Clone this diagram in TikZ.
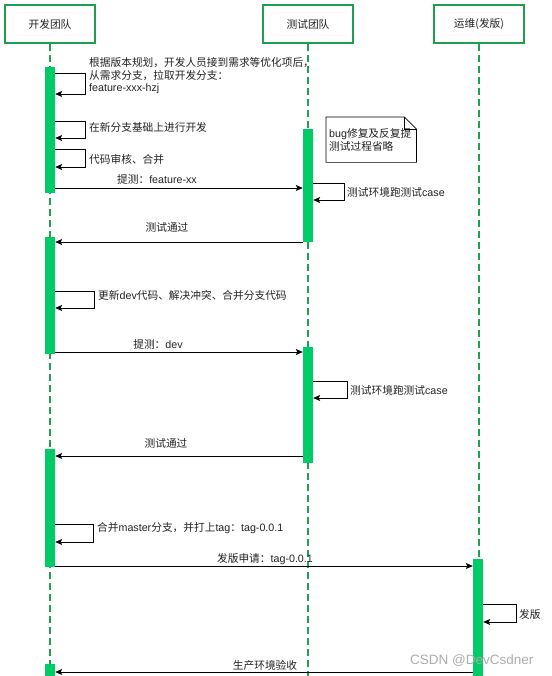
\documentclass[tikz,border=0pt]{standalone}
\usepackage{fontspec}
\setmainfont{Liberation Sans}
\newfontfamily\cjk{Noto Sans CJK SC}
\usetikzlibrary{arrows.meta,calc}
\definecolor{boxgreen}{HTML}{1E9E50}
\definecolor{linegreen}{HTML}{1FA055}
\definecolor{bargreen}{HTML}{00CC66}
\definecolor{txt}{HTML}{222222}
\tikzset{
  actor/.style={draw=boxgreen, line width=1.4pt, minimum width=90pt, minimum height=38pt, fill=white, inner sep=0pt, font=\fontsize{10.7}{12.5}\selectfont\cjk, text=txt},
  life/.style={draw=linegreen, line width=1.2pt, dash pattern=on 7pt off 4pt},
  actbar/.style={fill=bargreen, draw=none, minimum width=10pt, inner sep=0pt, anchor=north},
  msg/.style={draw=black, line width=0.8pt, -{Stealth[length=7pt,width=6pt,inset=1.5pt]}},
  lbl/.style={font=\fontsize{10.7}{12.5}\selectfont, inner sep=0pt, text=txt},
}
\begin{document}
\begin{tikzpicture}[x=1pt,y=-1pt]
\useasboundingbox (0,0) rectangle (551,676);
% headers
\node[actor] (h1) at (50,24) {开发团队};
\node[actor] (h2) at (308,24) {测试团队};
\node[actor] (h3) at (479,24) {运维(发版)};
% lifelines
\coordinate (e1) at (50,680);
\coordinate (e2) at (308,680);
\coordinate (e3) at (479,680);
\draw[life] (h1.south) -- (e1);
\draw[life] (h2.south) -- (e2);
\draw[life] (h3.south) -- (e3);
% activation bars
\node[actbar, minimum height=126pt] (d1) at (50,67) {};
\node[actbar, minimum height=117pt] (d2) at (50,237) {};
\node[actbar, minimum height=118pt] (d3) at (50,449) {};
\node[actbar, minimum height=16pt] (d4) at (50,664) {};
\node[actbar, minimum height=113pt] (t1) at (308,129) {};
\node[actbar, minimum height=116pt] (t2) at (308,347) {};
\node[actbar, minimum height=121pt] (o1) at (478,559) {};
% self messages (dev)
\draw[msg] (d1.east |- 0,73) -| (85,94) -- (d1.east |- 0,94);
\node[lbl, anchor=north west, align=left] (l1) at (89,57.5) {{\cjk 根据版本规划，开发人员接到需求等优化项后，}\\{\cjk 从需求分支，拉取开发分支：}\\feature-xxx-hzj};
\draw[msg] (d1.east |- 0,121) -| (85,138) -- (d1.east |- 0,138);
\node[lbl, anchor=west] (l2) at (89,127) {\cjk 在新分支基础上进行开发};
\draw[msg] (d1.east |- 0,149) -| (85,167) -- (d1.east |- 0,167);
\node[lbl, anchor=west] (l3) at (89,159) {\cjk 代码审核、合并};
% to test
\draw[msg] (d1.east |- 0,188) -- (t1.west |- 0,188);
\node[lbl] (l4) at (157,179) {{\cjk 提测：}feature-xx};
\draw[msg] (t1.east |- 0,183) -| (344,200) -- (t1.east |- 0,200);
\node[lbl, anchor=west] (l5) at (347,192) {{\cjk 测试环境跑测试}case};
% note
\node[lbl, anchor=north west, minimum width=90pt, minimum height=45pt, align=left, text width=84pt, inner xsep=3pt] (note) at (326,117) {bug{\cjk 修复及反复提}\\{\cjk 测试过程省略}};
\draw[line width=0.7pt] (note.north west) -- ($(note.north east)+(-12,0)$) -- ($(note.north east)+(0,12)$) -- (note.south east) -- (note.south west) -- cycle;
\draw[line width=0.7pt] ($(note.north east)+(-12,0)$) -- ($(note.north east)+(-12,12)$) -- ($(note.north east)+(0,12)$);
% back
\draw[msg] (t1.west |- 0,242) -- (d2.east |- 0,242);
\node[lbl] (l6) at (167,227) {\cjk 测试通过};
\draw[msg] (d2.east |- 0,291) -| (94,308) -- (d2.east |- 0,308);
\node[lbl, anchor=west] (l7) at (98,295) {{\cjk 更新}dev{\cjk 代码、解决冲突、合并分支代码}};
\draw[msg] (d2.east |- 0,352) -- (t2.west |- 0,352);
\node[lbl] (l8) at (158,344) {{\cjk 提测：}dev};
\draw[msg] (t2.east |- 0,381) -| (347,398) -- (t2.east |- 0,398);
\node[lbl, anchor=west] (l9) at (350,390) {{\cjk 测试环境跑测试}case};
\draw[msg] (t2.west |- 0,456) -- (d3.east |- 0,456);
\node[lbl] (l10) at (166,443) {\cjk 测试通过};
\draw[msg] (d3.east |- 0,524) -| (93,542) -- (d3.east |- 0,542);
\node[lbl, anchor=west] (l11) at (97,528) {{\cjk 合并}master{\cjk 分支，并打上}tag{\cjk ：}tag-0.0.1};
\draw[msg] (d3.east |- 0,566) -- (o1.west |- 0,566);
\node[lbl] (l12) at (265,559) {{\cjk 发版申请：}tag-0.0.1};
\draw[msg] (o1.east |- 0,604) -| (516,622) -- (o1.east |- 0,622);
\node[lbl, anchor=west] (l13) at (519,614) {\cjk 发版};
\draw[msg] (o1.west |- 0,672) -- (d4.east |- 0,672);
\node[lbl] (l14) at (265,665) {\cjk 生产环境验收};
% watermark
\node[font=\fontsize{13.5}{14}\selectfont, text=gray!65, inner sep=0pt, anchor=west] (wm) at (410,661) {CSDN @DevCsdner};
\end{tikzpicture}
\end{document}
